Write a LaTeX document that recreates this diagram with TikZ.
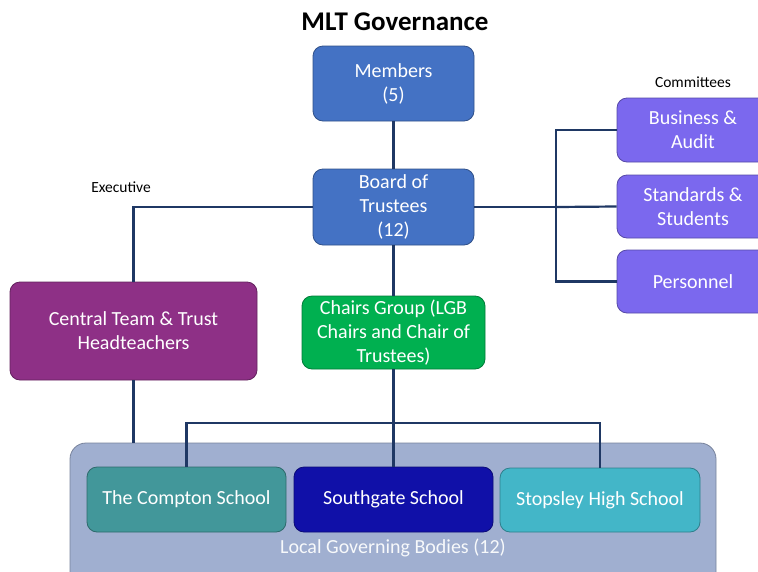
\documentclass[tikz,border=0pt]{standalone}
\usepackage{fontspec}
\setmainfont{Carlito}
\definecolor{trustblue}{RGB}{68,114,196}
\definecolor{execpurple}{RGB}{142,48,134}
\definecolor{chairsgreen}{RGB}{0,176,80}
\definecolor{commviolet}{RGB}{123,104,238}
\definecolor{comptonteal}{RGB}{66,151,154}
\definecolor{southgateblue}{RGB}{16,16,168}
\definecolor{stopsleycyan}{RGB}{67,182,200}
\definecolor{lgbgrey}{RGB}{160,175,208}
\definecolor{linknavy}{RGB}{31,56,100}
\begin{document}
\begin{tikzpicture}[x=1pt,y=-1pt,
  box/.style={rectangle,rounded corners=10pt,inner sep=0pt,align=center,
    text=white,font=\fontsize{20}{24}\selectfont,line width=0.8pt},
  link/.style={draw=linknavy,line width=2.2pt},
  tag/.style={font=\fontsize{15.5}{18}\selectfont}]
  \useasboundingbox (0,0) rectangle (758,571);
  \clip (0,0) rectangle (758,571);
  \node[font=\bfseries\fontsize{27}{30}\selectfont] (title) at (395,22) {MLT Governance};
  \node[box,fill=trustblue,draw=trustblue!70!black,minimum width=161pt,minimum height=75pt]
    (members) at (393.5,83.5) {Members\\(5)};
  \node[box,fill=trustblue,draw=trustblue!70!black,minimum width=161pt,minimum height=76pt]
    (board) at (393.5,207) {Board of\\Trustees\\(12)};
  \node[box,fill=execpurple,draw=execpurple!70!black,minimum width=247pt,minimum height=98pt]
    (central) at (133.5,331) {Central Team \& Trust\\Headteachers};
  \node[box,fill=chairsgreen,draw=chairsgreen!70!black,minimum width=183pt,minimum height=73pt]
    (chairs) at (393.5,332.5) {Chairs Group (LGB\\Chairs and Chair of\\Trustees)};
  \node[box,fill=commviolet,draw=commviolet!70!black,minimum width=152pt,minimum height=64pt]
    (business) at (693,130) {Business \&\\Audit};
  \node[box,fill=commviolet,draw=commviolet!70!black,minimum width=152pt,minimum height=63pt]
    (standards) at (693,206.5) {Standards \&\\Students};
  \node[box,fill=commviolet,draw=commviolet!70!black,minimum width=152pt,minimum height=63pt]
    (personnel) at (693,281.5) {Personnel};
  \node[box,rounded corners=16pt,fill=lgbgrey,draw=lgbgrey!75!black,minimum width=646pt,minimum height=170pt]
    (lgb) at (393,528) {};
  \node[box,fill=comptonteal,draw=comptonteal!70!black,minimum width=199pt,minimum height=65pt]
    (compton) at (186.5,499.5) {The Compton School};
  \node[box,fill=southgateblue,draw=southgateblue!70!black,minimum width=199pt,minimum height=65pt]
    (southgate) at (393.5,499.5) {Southgate School};
  \node[box,fill=stopsleycyan,draw=stopsleycyan!70!black,minimum width=200pt,minimum height=64pt]
    (stopsley) at (600,500) {Stopsley High School};
  \node[text=white!92!lgbgrey,font=\fontsize{20}{24}\selectfont] (lgblabel) at (393,548) {Local Governing Bodies (12)};
  \node[tag] (executive) at (121,187) {Executive};
  \node[tag] (committees) at (693,82) {Committees};
  \coordinate (cj) at (556,207);
  \coordinate (sj) at (393.5,423);
  \draw[link] (members) -- (board);
  \draw[link] (board.west) -| (central.north);
  \draw[link] (board) -- (chairs);
  \draw[link] (board.east) -- (cj);
  \draw[link] (business.west) -| (cj) |- (personnel.west);
  \draw[link] (standards.west) -- (cj);
  \draw[link] (chairs.south) -- (southgate.north);
  \draw[link] (compton.north) |- (sj) -| (stopsley.north);
  \draw[link] (central.south) -- (central.south |- lgb.north);
\end{tikzpicture}
\end{document}
